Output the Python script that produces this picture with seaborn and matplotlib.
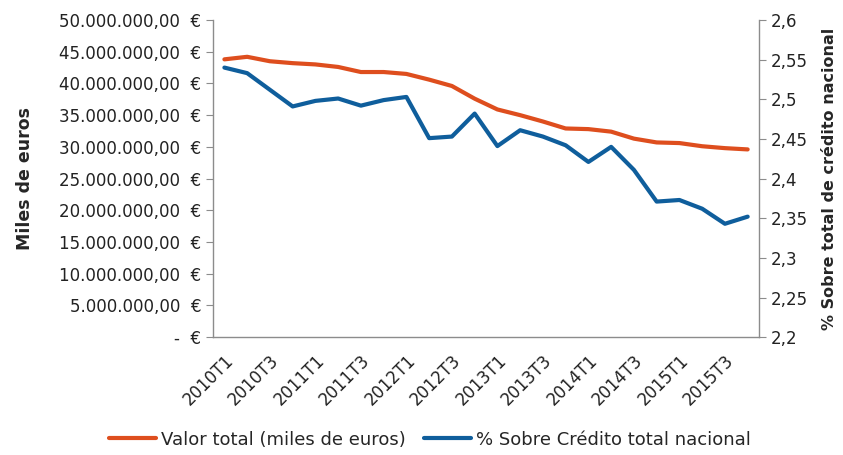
import numpy as np
import pandas as pd
import matplotlib
matplotlib.use("Agg")
import matplotlib.pyplot as plt
import seaborn as sns
from matplotlib.ticker import FuncFormatter, FixedLocator

# quarters 2010T1 .. 2015T4
quarters = [f"{y}T{q}" for y in range(2010, 2016) for q in range(1, 5)]

# Valor total (miles de euros) - left axis
valor_total = [43.8e6, 44.2e6, 43.5e6, 43.2e6, 43.0e6, 42.6e6, 41.8e6, 41.8e6,
               41.5e6, 40.6e6, 39.6e6, 37.6e6, 35.9e6, 35.0e6, 34.0e6, 32.9e6,
               32.8e6, 32.4e6, 31.3e6, 30.7e6, 30.6e6, 30.1e6, 29.8e6, 29.6e6]

# % Sobre Credito total nacional - right axis
pct_credito = [2.540, 2.533, 2.512, 2.491, 2.498, 2.501, 2.492, 2.499,
               2.503, 2.451, 2.453, 2.482, 2.441, 2.461, 2.453, 2.442,
               2.421, 2.440, 2.411, 2.371, 2.373, 2.362, 2.343, 2.352]

red = "#DE4E1E"
blue = "#0F5E9C"
gray = "#8C8C8C"

df = pd.DataFrame({"idx": np.arange(len(quarters)), "quarter": quarters,
                   "valor": valor_total, "pct": pct_credito})

sns.set_style("white")
plt.rcParams["font.family"] = ["DejaVu Sans"]
plt.rcParams["font.size"] = 12

fig = plt.figure(figsize=(8.43, 4.55), dpi=100)
ax = fig.add_axes([0.2527, 0.259, 0.6477, 0.697])
ax2 = ax.twinx()

sns.lineplot(data=df, x="idx", y="valor", ax=ax, color=red, linewidth=3,
             label="Valor total (miles de euros)", legend=False)
sns.lineplot(data=df, x="idx", y="pct", ax=ax2, color=blue, linewidth=3,
             label="% Sobre Crédito total nacional", legend=False)

ax.set_xlim(-0.5, len(quarters) - 0.5)
ax.set_ylim(0, 50e6)
ax2.set_ylim(2.2, 2.6)

def eur(v, pos):
    if v == 0:
        return "-  €"
    s = f"{v:,.2f}".replace(",", "X").replace(".", ",").replace("X", ".")
    return s + "  €"

ax.yaxis.set_major_locator(FixedLocator(np.arange(0, 50e6 + 1, 5e6)))
ax.yaxis.set_major_formatter(FuncFormatter(eur))
ax2.yaxis.set_major_locator(FixedLocator(np.arange(2.2, 2.601, 0.05)))
ax2.yaxis.set_major_formatter(FuncFormatter(lambda v, p: f"{round(v, 2):g}".replace(".", ",")))

# category boundaries as tick marks, labels every second quarter
ax.set_xticks(np.arange(-0.5, len(quarters), 1.0))
ax.set_xticklabels([])
ax.set_xticks(np.arange(0, len(quarters), 2), minor=True)
ax.set_xticklabels(quarters[::2], minor=True, rotation=45, ha="right",
                   rotation_mode="anchor")
ax.tick_params(axis="x", which="minor", length=0, pad=10, labelsize=12, colors="#222222")
ax.tick_params(axis="x", which="major", length=5, color=gray, width=1)
ax.tick_params(axis="y", length=5, color=gray, labelsize=12, labelcolor="#222222")
ax2.tick_params(axis="y", length=5, color=gray, labelsize=12, labelcolor="#222222")

ax.set_xlabel("")
ax.set_ylabel("Miles de euros", fontweight="bold", fontsize=12.5, labelpad=18)
ax2.set_ylabel("% Sobre total de crédito nacional", fontweight="bold", fontsize=11.5,
               labelpad=10)

for a in (ax, ax2):
    a.spines["top"].set_visible(False)
    for s in ("left", "right", "bottom"):
        a.spines[s].set_color(gray)
        a.spines[s].set_linewidth(1)
ax.spines["right"].set_visible(False)
ax2.spines["left"].set_visible(False)
ax2.spines["bottom"].set_visible(False)

h1, l1 = ax.get_legend_handles_labels()
h2, l2 = ax2.get_legend_handles_labels()
fig.legend(h1 + h2, l1 + l2, loc="lower center", bbox_to_anchor=(0.51, -0.022),
           ncol=2, frameon=False, fontsize=13, handlelength=2.6, columnspacing=1.0,
           handletextpad=0.3)

fig.savefig("out.png", dpi=100, facecolor="white")
